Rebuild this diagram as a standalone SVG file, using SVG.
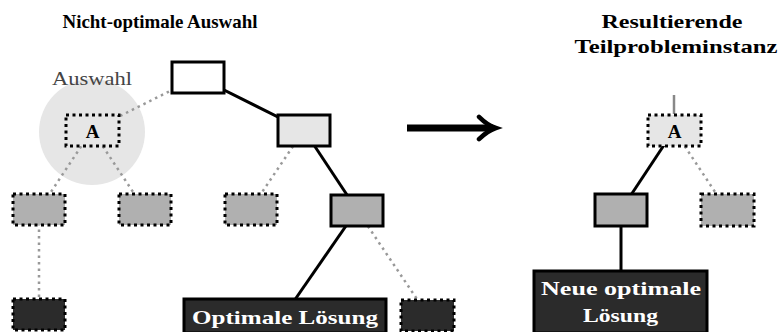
<svg xmlns="http://www.w3.org/2000/svg" width="781" height="332" viewBox="0 0 781 332">
<style>
.t{font-family:"Liberation Serif","DejaVu Serif",serif;}
.b{font-weight:bold;}
.solid{stroke:#000;stroke-width:3;fill:none;}
.dots{stroke:#999;stroke-width:2.5;stroke-dasharray:2.5 4;fill:none;}
.nd{stroke:#000;stroke-width:3;}
.nd-dot{stroke:#000;stroke-width:3;stroke-dasharray:3 3.5;}
.white{fill:#fff;}
.light{fill:#e6e6e6;}
.gray{fill:#b0b0b0;}
.dark{fill:#2b2b2b;}
</style>
<defs>
<marker id="tip" viewBox="0 0 10 10" refX="6" refY="5" markerWidth="4" markerHeight="4" orient="auto" markerUnits="strokeWidth">
<path d="M1,1 Q4,4 7,5 Q4,6 1,9" fill="none" stroke="#000" stroke-width="1.6" stroke-linecap="round"/>
</marker>
</defs>
<rect width="781" height="332" fill="#fff"/>
<text class="t b" x="160" y="28" font-size="19" text-anchor="middle" textLength="195" lengthAdjust="spacingAndGlyphs">Nicht-optimale Auswahl</text>
<text class="t b" x="672" y="28" font-size="19" text-anchor="middle" textLength="141" lengthAdjust="spacingAndGlyphs">Resultierende</text>
<text class="t b" x="676" y="53" font-size="19" text-anchor="middle" textLength="203" lengthAdjust="spacingAndGlyphs">Teilprobleminstanz</text>
<g id="highlight">
<circle cx="92" cy="132" r="53" fill="#e6e6e6"/>
<text class="t" x="92" y="85" font-size="19" fill="#444" text-anchor="middle" textLength="80" lengthAdjust="spacingAndGlyphs">Auswahl</text>
</g>
<g id="connectors">
<line class="dots" x1="198" y1="77" x2="92" y2="130"/>
<line class="solid" x1="198" y1="77" x2="304" y2="130"/>
<line class="dots" x1="92" y1="130" x2="39" y2="210"/>
<line class="dots" x1="92" y1="130" x2="145" y2="210"/>
<line class="dots" x1="304" y1="130" x2="250" y2="210"/>
<line class="solid" x1="304" y1="130" x2="357" y2="210"/>
<line class="dots" x1="39" y1="210" x2="39" y2="314"/>
<line class="solid" x1="357" y1="210" x2="285" y2="314"/>
<line class="dots" x1="357" y1="210" x2="427" y2="314"/>
<line x1="674" y1="95" x2="674" y2="114" stroke="#888" stroke-width="2.5"/>
<line class="solid" x1="674" y1="130" x2="621" y2="210"/>
<line class="dots" x1="674" y1="130" x2="727" y2="210"/>
<line class="solid" x1="621" y1="210" x2="621" y2="300"/>
<line x1="407" y1="128" x2="493" y2="128" stroke="#000" stroke-width="7" marker-end="url(#tip)"/>
</g>
<g id="root"><rect class="nd white" x="172" y="62" width="52" height="31"/></g>
<g id="nodeA"><rect class="nd-dot light" x="66" y="115" width="53" height="31"/><text class="t b" x="92.5" y="138" font-size="19" text-anchor="middle">A</text></g>
<g id="nodeB"><rect class="nd light" x="278" y="115" width="52" height="31"/></g>
<g id="nodeA1"><rect class="nd-dot gray" x="13" y="194" width="52" height="31"/></g>
<g id="nodeA2"><rect class="nd-dot gray" x="119" y="194" width="52" height="31"/></g>
<g id="nodeB1"><rect class="nd-dot gray" x="225" y="194" width="52" height="31"/></g>
<g id="nodeB2"><rect class="nd gray" x="331" y="195" width="52" height="31"/></g>
<g id="nodeA1a"><rect class="nd-dot dark" x="13" y="299" width="52" height="31"/></g>
<g id="optimal"><rect class="nd dark" x="184" y="299" width="202" height="34"/><text class="t b" x="285" y="324" font-size="19" fill="#fff" text-anchor="middle" textLength="186" lengthAdjust="spacingAndGlyphs">Optimale Lösung</text></g>
<g id="nodeB2b"><rect class="nd-dot dark" x="401" y="300" width="53" height="31"/></g>
<g id="subA"><rect class="nd-dot light" x="648" y="115" width="53" height="31"/><text class="t b" x="674.5" y="138" font-size="19" text-anchor="middle">A</text></g>
<g id="subLeft"><rect class="nd gray" x="595" y="194" width="52" height="32"/></g>
<g id="subRight"><rect class="nd-dot gray" x="701" y="194" width="53" height="32"/></g>
<g id="newOptimal"><rect class="nd dark" x="534" y="271" width="173" height="62"/><text class="t b" x="621" y="295" font-size="19" fill="#fff" text-anchor="middle" textLength="160" lengthAdjust="spacingAndGlyphs">Neue optimale</text><text class="t b" x="620.5" y="322" font-size="19" fill="#fff" text-anchor="middle" textLength="75" lengthAdjust="spacingAndGlyphs">Lösung</text></g>
</svg>
